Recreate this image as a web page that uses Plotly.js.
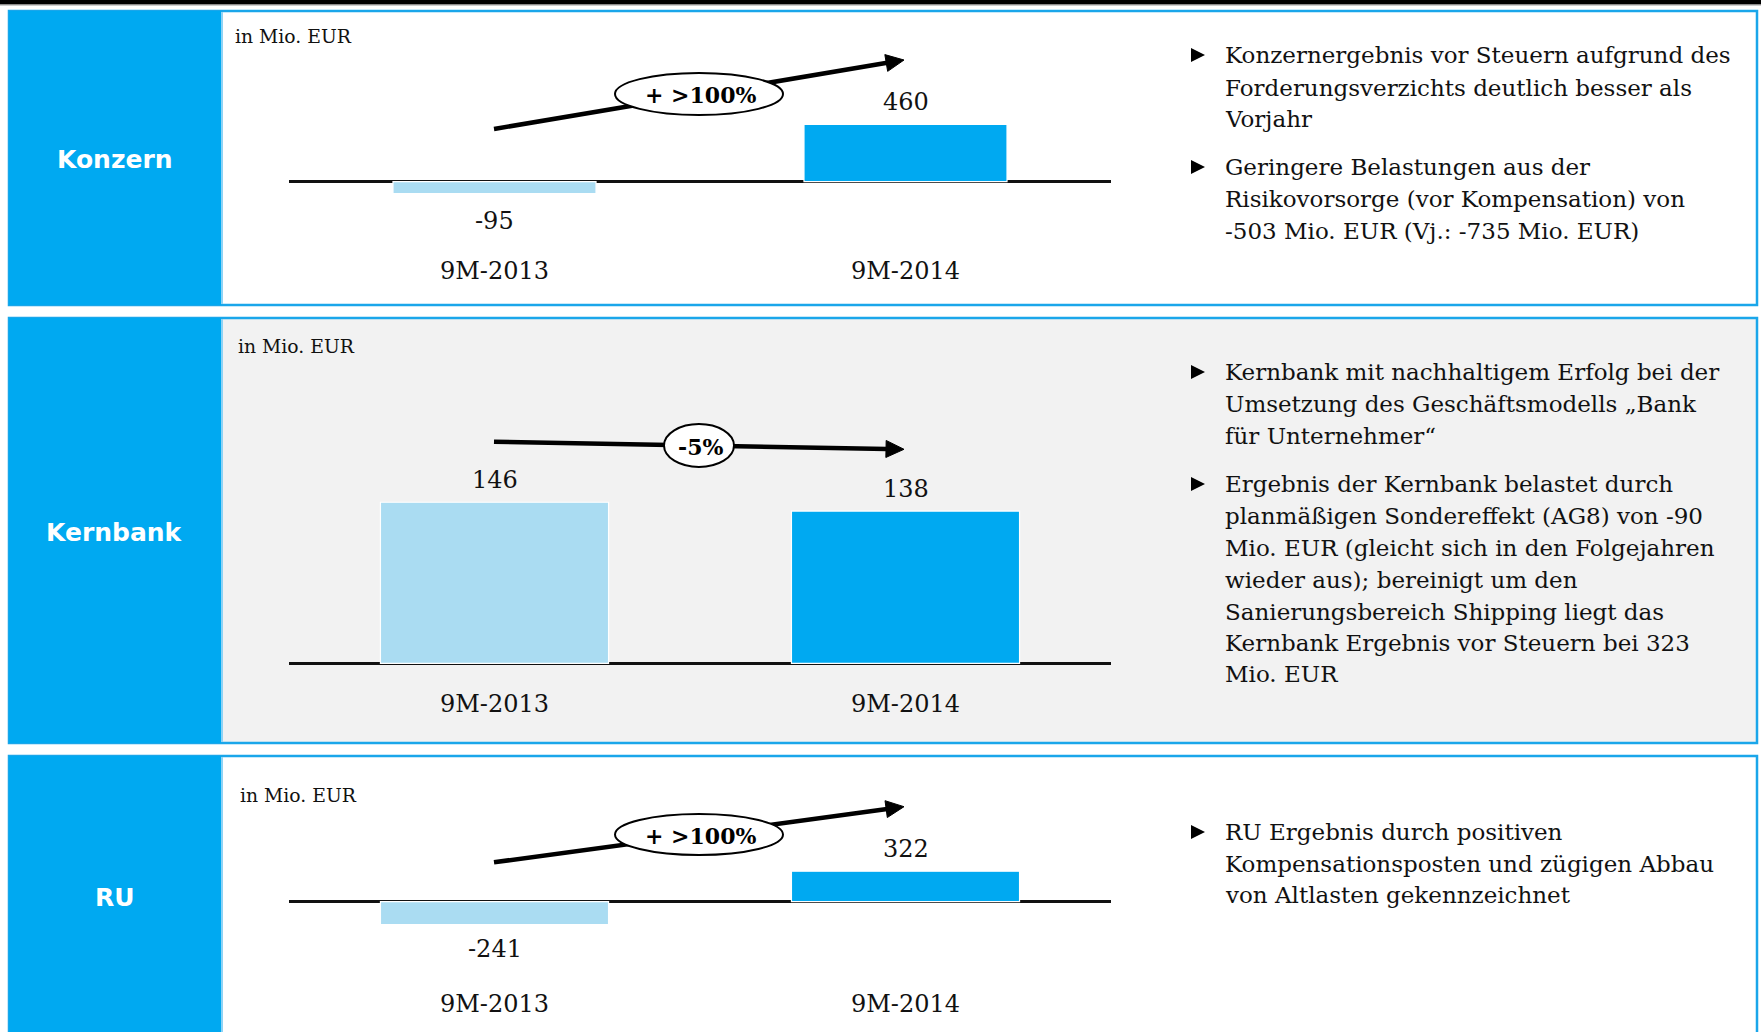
<!DOCTYPE html>
<html><head><meta charset="utf-8">
<script src="https://cdn.plot.ly/plotly-3.0.1.min.js"></script>
<style>html,body{margin:0;padding:0;background:#fff;overflow:hidden}#chart{width:1761px;height:1032px}</style>
</head><body><div id="chart"></div>
<script>
// ---------------- data ----------------
const categories = ['9M-2013', '9M-2014'];
const konzernValues = [-95, 460];
const kernbankValues = [146, 138];
const ruValues = [-241, 322];
const segmentNames = ['Konzern', 'Kernbank', 'RU'];
const changeLabels = ['+ >100%', '-5%', '+ >100%'];
const unitLabel = 'in Mio. EUR';
const konzernBullets = [
  ['Konzernergebnis vor Steuern aufgrund des', 'Forderungsverzichts deutlich besser als', 'Vorjahr'],
  ['Geringere Belastungen aus der', 'Risikovorsorge (vor Kompensation) von', '-503 Mio. EUR (Vj.: -735 Mio. EUR)']
];
const kernbankBullets = [
  ['Kernbank mit nachhaltigem Erfolg bei der', 'Umsetzung des Geschäftsmodells „Bank', 'für Unternehmer“'],
  ['Ergebnis der Kernbank belastet durch', 'planmäßigen Sondereffekt (AG8) von -90', 'Mio. EUR (gleicht sich in den Folgejahren', 'wieder aus); bereinigt um den', 'Sanierungsbereich Shipping liegt das', 'Kernbank Ergebnis vor Steuern bei 323', 'Mio. EUR']
];
const ruBullets = [
  ['RU Ergebnis durch positiven', 'Kompensationsposten und zügigen Abbau', 'von Altlasten gekennzeichnet']
];

const seriesValues = [konzernValues, kernbankValues, ruValues];
const bulletSets = [konzernBullets, kernbankBullets, ruBullets];

// ---------------- layout geometry & styles ----------------
const W = 1761, H = 1032;
const PX = x => x / W, PY = y => 1 - y / H;
const BLUE = '#00a9f1', LIGHT = '#aadcf2', BORDER = '#1aa6ea';
const SERIF = '"DejaVu Serif", Georgia, serif';
const geo = [
  {top: 11, bottom: 305, bg: '#ffffff', plotTop: 40, plotBottom: 254, range: [-579.3, 1135.4], barWidth: 0.494,
   unitX: 233, unitY: 37, nameY: 159, arrow: [494, 129, 904, 60], ellipse: [615, 73, 783, 115], changeY: 95,
   bulletY: [[55, 87.5, 119], [167, 199, 231]], negShift: -27, posShift: 22.5},
  {top: 318, bottom: 743, bg: '#f2f2f2', plotTop: 380, plotBottom: 687, range: [-21.5, 256.8], barWidth: 0.555,
   unitX: 236, unitY: 347, nameY: 532, arrow: [494, 441.7, 904, 449.3], ellipse: [664, 424, 734, 467], changeY: 447,
   bulletY: [[372, 404, 436], [484, 516, 548, 580, 612, 643, 674]], negShift: -26, posShift: 22.5},
  {top: 756, bottom: 1060, bg: '#ffffff', plotTop: 790, plotBottom: 987, range: [-899.8, 1178.3], barWidth: 0.555,
   unitX: 238, unitY: 795, nameY: 897, arrow: [494, 862.3, 904, 806.7], ellipse: [615, 814, 783, 855], changeY: 836,
   bulletY: [[832, 863.5, 895]], negShift: -24, posShift: 22.5}
];

const traces = [];
const shapes = [];
const annotations = [];
const layout = {
  width: W, height: H, margin: {l: 0, r: 0, t: 0, b: 0, pad: 0},
  paper_bgcolor: '#ffffff', plot_bgcolor: 'rgba(0,0,0,0)',
  showlegend: false, font: {family: SERIF, color: '#111'}
};

// top rule
shapes.push({type: 'rect', xref: 'paper', yref: 'paper', x0: 0, x1: 1, y0: PY(4.5), y1: PY(0), fillcolor: '#000', line: {width: 0}, layer: 'below'});
shapes.push({type: 'rect', xref: 'paper', yref: 'paper', x0: 0, x1: 1, y0: PY(5.5), y1: PY(4.5), fillcolor: '#9a9a9a', line: {width: 0}, layer: 'below'});

geo.forEach((g, i) => {
  const n = i + 1;
  const xa = n === 1 ? 'x' : 'x' + n;
  const ya = n === 1 ? 'y' : 'y' + n;
  const vals = seriesValues[i];

  // panel frame & label box
  shapes.push({type: 'rect', xref: 'paper', yref: 'paper', x0: PX(9), x1: PX(1757), y0: PY(g.bottom), y1: PY(g.top),
    fillcolor: g.bg, line: {color: BORDER, width: 2.5}, layer: 'below'});
  shapes.push({type: 'rect', xref: 'paper', yref: 'paper', x0: PX(9), x1: PX(221), y0: PY(g.bottom), y1: PY(g.top),
    fillcolor: BLUE, line: {width: 0}, layer: 'below'});
  shapes.push({type: 'rect', xref: 'paper', yref: 'paper', x0: PX(221), x1: PX(223), y0: PY(g.bottom - 1), y1: PY(g.top + 1),
    fillcolor: '#8fd3f5', line: {width: 0}, layer: 'below'});

  // bars
  traces.push({
    type: 'bar', x: categories, y: vals, xaxis: xa, yaxis: ya, width: g.barWidth,
    marker: {color: [LIGHT, BLUE], line: {color: '#ffffff', width: 1.2}},
    hoverinfo: 'skip', cliponaxis: false
  });

  layout['xaxis' + (n === 1 ? '' : n)] = {
    domain: [PX(289), PX(1111)], anchor: ya, type: 'category', range: [-0.5, 1.5], fixedrange: true,
    showgrid: false, zeroline: false, showline: false, ticks: '',
    tickfont: {family: SERIF, size: 24, color: '#111'}
  };
  layout['yaxis' + (n === 1 ? '' : n)] = {
    domain: [PY(g.plotBottom), PY(g.plotTop)], anchor: xa, range: g.range, fixedrange: true,
    showgrid: false, zeroline: true, zerolinecolor: '#111', zerolinewidth: 2.5, showticklabels: false, showline: false
  };

  // value labels
  vals.forEach((v, k) => {
    annotations.push({xref: xa, yref: ya, x: categories[k], y: v, yshift: v >= 0 ? g.posShift : g.negShift,
      text: String(v), showarrow: false, xanchor: 'center', yanchor: 'middle',
      font: {family: SERIF, size: 24, color: '#111'}});
  });

  // unit label
  annotations.push({xref: 'paper', yref: 'paper', x: PX(g.unitX), y: PY(g.unitY), text: unitLabel, showarrow: false,
    xanchor: 'left', yanchor: 'middle', font: {family: SERIF, size: 18.8, color: '#111'}});
  // segment name
  annotations.push({xref: 'paper', yref: 'paper', x: PX(115), y: PY(g.nameY), text: '<b>' + segmentNames[i] + '</b>', showarrow: false,
    xanchor: 'center', yanchor: 'middle', font: {family: '"DejaVu Sans", Verdana, sans-serif', size: 25, color: '#ffffff'}});

  // trend arrow
  const [sx, sy, tx, ty] = g.arrow;
  const len = Math.hypot(tx - sx, ty - sy);
  const dx = (tx - sx) / len, dy = (ty - sy) / len;
  const nx = -dy, ny = dx;
  const bx = tx - 18 * dx, by = ty - 18 * dy;
  shapes.push({type: 'line', xref: 'paper', yref: 'paper', x0: PX(sx), y0: PY(sy), x1: PX(bx + dx), y1: PY(by + dy),
    line: {color: '#000', width: 4.5}, layer: 'above'});
  const pts = [[tx, ty], [bx + 8.5 * nx, by + 8.5 * ny], [bx - 8.5 * nx, by - 8.5 * ny]];
  shapes.push({type: 'path', xref: 'paper', yref: 'paper',
    path: 'M' + pts.map(p => PX(p[0]) + ',' + PY(p[1])).join('L') + 'Z',
    fillcolor: '#000', line: {color: '#000', width: 1}, layer: 'above'});
  const [ex0, ey0, ex1, ey1] = g.ellipse;
  shapes.push({type: 'circle', xref: 'paper', yref: 'paper', x0: PX(ex0), x1: PX(ex1), y0: PY(ey1), y1: PY(ey0),
    fillcolor: '#ffffff', line: {color: '#000', width: 2}, layer: 'above'});
  annotations.push({xref: 'paper', yref: 'paper', x: PX((ex0 + ex1) / 2 + 1), y: PY(g.changeY), text: '<b>' + changeLabels[i] + '</b>',
    showarrow: false, xanchor: 'center', yanchor: 'middle', font: {family: SERIF, size: 22, color: '#000'}});

  // bullets
  bulletSets[i].forEach((lines, b) => {
    const ys = g.bulletY[b];
    const cy = ys[0];
    shapes.push({type: 'path', xref: 'paper', yref: 'paper',
      path: 'M' + PX(1191) + ',' + PY(cy - 7) + 'L' + PX(1205) + ',' + PY(cy) + 'L' + PX(1191) + ',' + PY(cy + 7) + 'Z',
      fillcolor: '#000', line: {width: 0}, layer: 'above'});
    lines.forEach((t, l) => {
      annotations.push({xref: 'paper', yref: 'paper', x: PX(1223), y: PY(ys[l]), text: t, showarrow: false,
        xanchor: 'left', yanchor: 'middle', font: {family: SERIF, size: 23, color: '#111'}});
    });
  });
});

layout.shapes = shapes;
layout.annotations = annotations;
Plotly.newPlot('chart', traces, layout, {displayModeBar: false, staticPlot: true});
</script>
</body></html>
